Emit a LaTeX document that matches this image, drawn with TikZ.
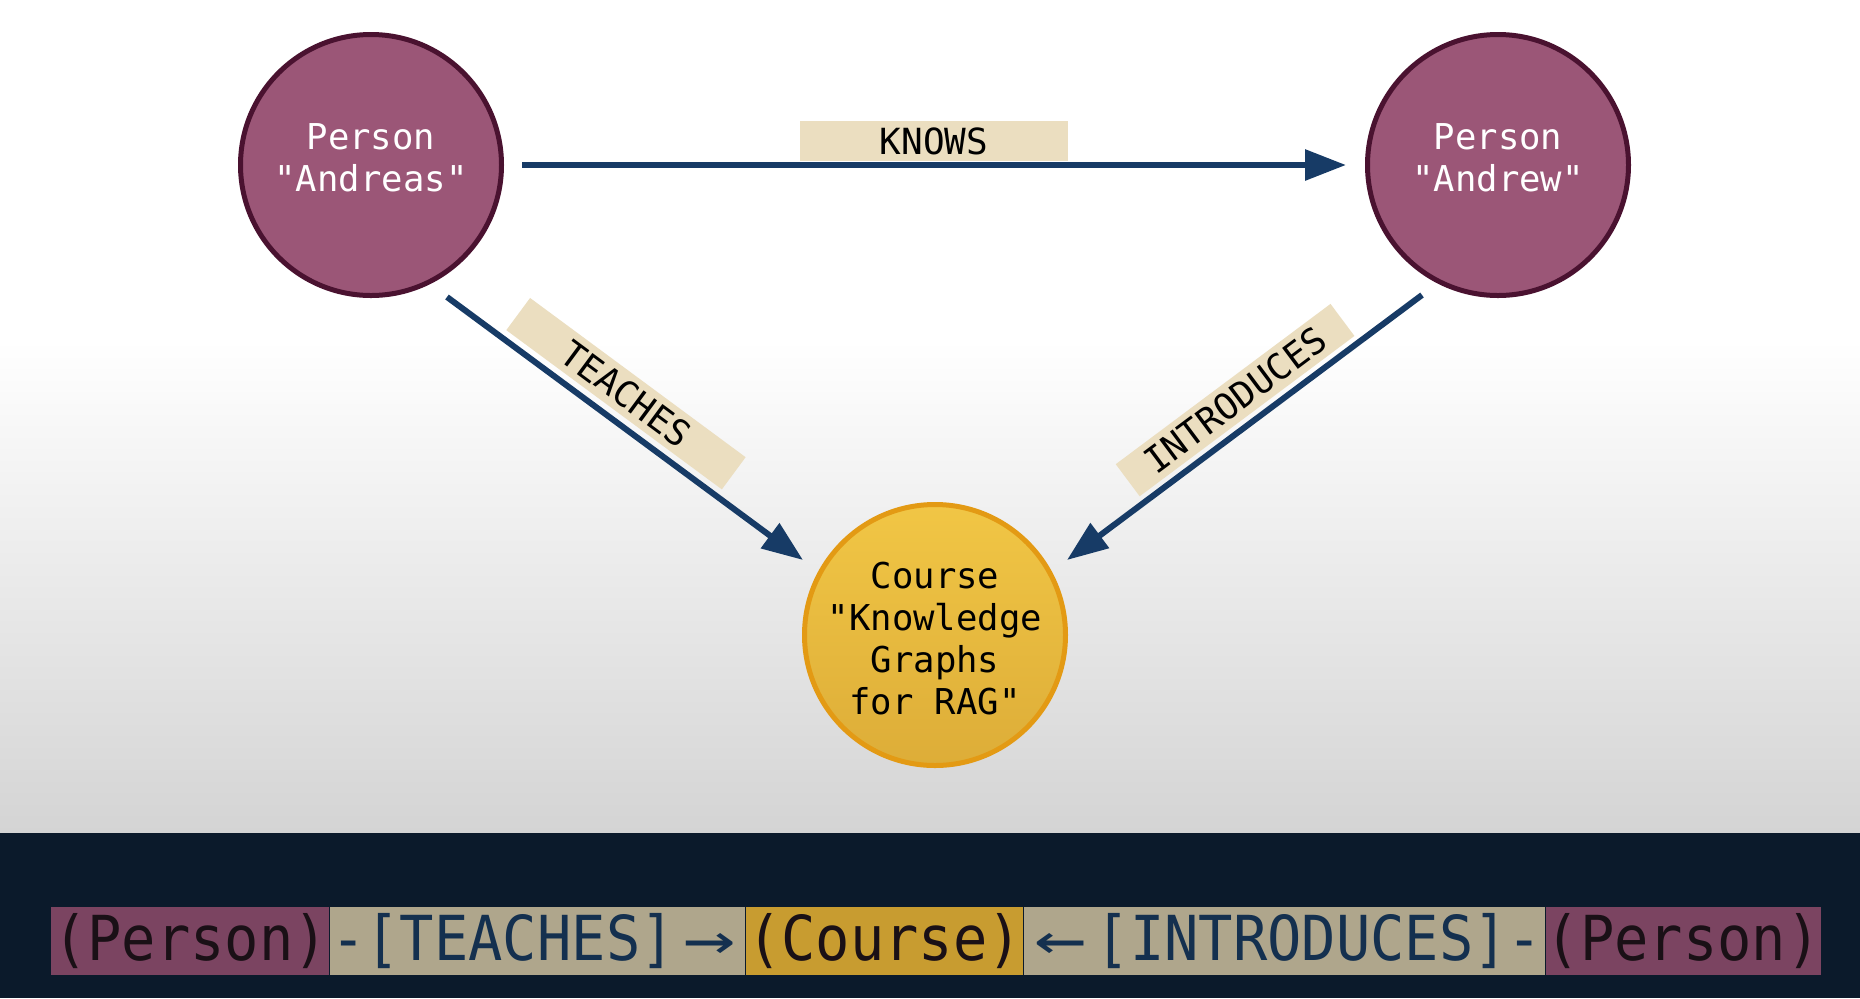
\documentclass[tikz,border=0pt]{standalone}
\usepackage{fontspec}
\usepackage{graphicx}
\setmonofont{DejaVu Sans Mono}
\usetikzlibrary{arrows.meta}
\definecolor{personfill}{HTML}{9B5677}
\definecolor{personborder}{HTML}{4A1230}
\definecolor{coursetop}{HTML}{F1C645}
\definecolor{coursebot}{HTML}{DDAD38}
\definecolor{courseborder}{HTML}{E39A14}
\definecolor{edgecol}{HTML}{173B66}
\definecolor{lblfill}{HTML}{EBDEC0}
\definecolor{barbg}{HTML}{0B1A2B}
\definecolor{bgbottom}{HTML}{D4D4D4}
\definecolor{barperson}{HTML}{7B4461}
\definecolor{barrel}{HTML}{AFA68C}
\definecolor{barcourse}{HTML}{C89C30}
\definecolor{bartext}{HTML}{1A1016}
\definecolor{barreltext}{HTML}{14304F}
\newcommand{\longarr}[1]{\makebox[34.7pt][c]{\scalebox{1.4}[1]{#1}}}
\newcommand{\bartxt}[1]{\scalebox{0.92}[1]{#1}}
\begin{document}
\begin{tikzpicture}[x=0.5pt,y=0.5pt,
  circtext/.style={align=center, inner sep=0pt, font=\ttfamily\fontsize{17.8}{21}\selectfont},
  person/.style={circle, draw=personborder, line width=2.5pt, fill=personfill,
    minimum size=130.5pt, inner sep=0pt},
  course/.style={circle, draw=courseborder, line width=2.5pt, top color=coursetop,
    bottom color=coursebot, minimum size=130.5pt, inner sep=0pt},
  rel/.style={draw=edgecol, line width=3pt, -{Triangle[length=20.5pt,width=15pt]}},
  lbl/.style={fill=lblfill, minimum width=134pt, minimum height=20pt, inner sep=0pt,
    font=\ttfamily\fontsize{18}{20}\selectfont, text=black},
  barbox/.style={minimum height=34pt, inner sep=0pt, anchor=west,
    font=\ttfamily\fontsize{31}{34}\selectfont},
]
\useasboundingbox (0,0) rectangle (1860,-998);
% background
\fill[white] (0,0) rectangle (1860,-340);
\shade[top color=white, bottom color=bgbottom] (0,-340) rectangle (1860,-833);
\fill[barbg] (0,-833) rectangle (1860,-998);

% nodes
\node[person, label={[circtext, text=white, yshift=3.5pt]center:{Person\\"Andreas"}}] (andreas) at (371,-165) {};
\node[person, label={[circtext, text=white, yshift=3.5pt]center:{Person\\"Andrew"}}] (andrew) at (1498,-165) {};
\node[course, label={[circtext, text=black, yshift=-1.8pt]center:{Course\\"Knowledge\\Graphs\\for RAG"}}] (course) at (935,-635) {};

% connector ends
\coordinate (kS) at (522,-165);
\coordinate (kE) at (1346,-165);
\coordinate (tS) at (447,-297);
\coordinate (tE) at (803,-560);
\coordinate (iS) at (1422,-295);
\coordinate (iE) at (1067,-560);

\draw[rel] (kS) -- node[lbl, pos=0.5, above, outer sep=2pt] (lknows) {KNOWS} (kE);
\draw[rel] (tS) -- node[lbl, pos=0.455, sloped, above, outer sep=4.3pt] (lteaches) {TEACHES} (tE);
\draw[rel] (iS) -- node[lbl, pos=0.48, sloped, above, outer sep=3.8pt] (lintro) {INTRODUCES} (iE);

% bottom bar
\node[barbox, fill=barperson, minimum width=139pt, text=bartext] (b1) at (51,-941) {\bartxt{(Person)}};
\node[barbox, fill=barrel, minimum width=207.5pt, text=barreltext] (b2) at (b1.east) {\bartxt{-[TEACHES]}\longarr{→}};
\node[barbox, fill=barcourse, minimum width=138.5pt, text=bartext] (b3) at (b2.east) {\bartxt{(Course)}};
\node[barbox, fill=barrel, minimum width=260.5pt, text=barreltext] (b4) at (b3.east) {\longarr{←}\bartxt{[INTRODUCES]-}};
\node[barbox, fill=barperson, minimum width=137.5pt, text=bartext] (b5) at (b4.east) {\bartxt{(Person)}};
\end{tikzpicture}
\end{document}
